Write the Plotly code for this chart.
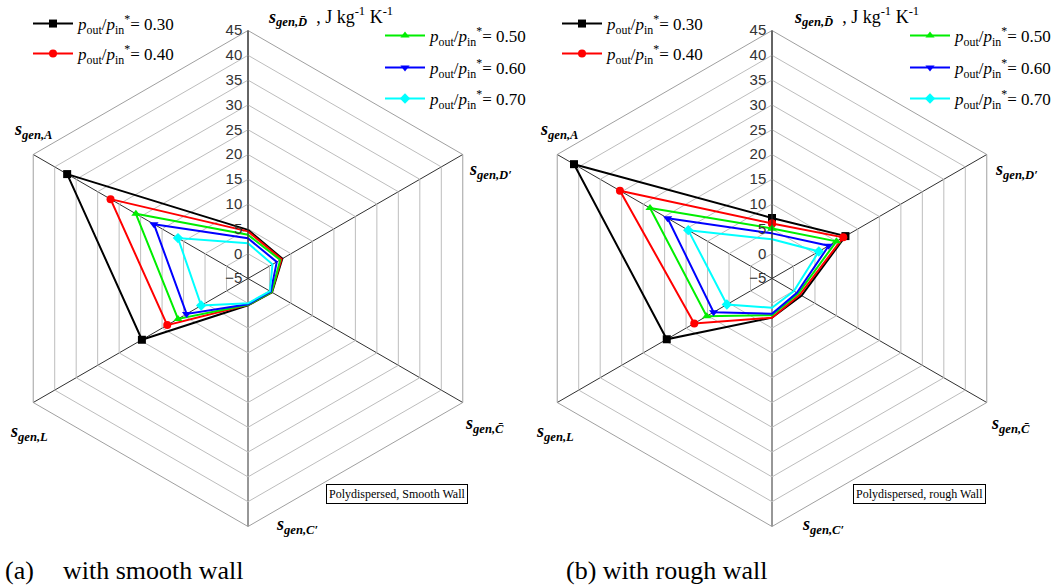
import plotly.graph_objects as go

W, H = 1064, 588

# ---------------- data ----------------
axes = ["D\u0304", "D\u2032", "C\u0304", "C\u2032", "L", "A"]   # clockwise from top
ratios = ["0.30", "0.40", "0.50", "0.60", "0.70"]

smooth_030 = [4.8, 3.0, 0.6, 0.4, 19.7, 37.1]
smooth_040 = [4.5, 2.8, 0.5, 0.3, 13.8, 27.0]
smooth_050 = [3.8, 2.5, 0.5, 0.3, 11.3, 21.1]
smooth_060 = [3.1, 1.7, 0.3, 0.2, 9.3, 16.9]
smooth_070 = [2.1, 0.7, 0.1, 0.0, 5.9, 11.3]

rough_030 = [7.2, 12.1, 1.9, 2.9, 19.5, 41.1]
rough_040 = [6.1, 11.6, 1.5, 2.9, 13.1, 30.4]
rough_050 = [5.1, 10.0, 1.1, 2.4, 10.2, 23.4]
rough_060 = [4.1, 8.2, 0.8, 2.1, 8.6, 19.3]
rough_070 = [2.9, 5.9, 0.1, 0.9, 5.5, 14.5]

radial_range = [-5, 45]
radial_step = 5

smooth = [smooth_030, smooth_040, smooth_050, smooth_060, smooth_070]
rough = [rough_030, rough_040, rough_050, rough_060, rough_070]

# ---------------- style ----------------
colors = ["#000000", "#FF0000", "#00EE00", "#0000FF", "#00FFFF"]
symbols = ["square", "circle", "triangle-up", "triangle-down", "diamond"]
SERIF = "Liberation Serif"
SANS = "Liberation Sans"


def px(x):
    return x / W


def py(y):
    return 1 - y / H


def closed(v):
    return list(v) + [v[0]]


# legend box positions (left x, top y) in pixels, one per series and panel
leg_pos_left = [(28, 6), (28, 36), (380, 18), (380, 50), (380, 81)]
leg_pos_right = [(557, 6), (557, 36), (905, 18), (905, 50), (905, 81)]

fig = go.Figure()
legends = {}
n = 0
for sub, data, pos in (("polar", smooth, leg_pos_left), ("polar2", rough, leg_pos_right)):
    for i, vals in enumerate(data):
        n += 1
        lname = "legend" if n == 1 else "legend%d" % n
        legends[lname] = dict(
            x=px(pos[i][0]), y=py(pos[i][1]), xanchor="left", yanchor="top",
            bgcolor="rgba(0,0,0,0)", itemwidth=40,
            font=dict(family=SERIF, size=17, color="black"))
        fig.add_trace(go.Scatterpolar(
            r=closed(vals), theta=closed(axes), subplot=sub,
            mode="lines+markers",
            line=dict(color=colors[i], width=2),
            marker=dict(symbol=symbols[i], size=8, color=colors[i]),
            name="<i>p</i><sub>out</sub>/<i>p</i><sub>in</sub><sup>*</sup>= " + ratios[i],
            legend=lname, showlegend=True,
        ))


def polar_layout(cx):
    R = 248
    cy = 278.5
    return dict(
        domain=dict(x=[px(cx - R), px(cx + R)], y=[py(cy + R), py(cy - R)]),
        gridshape="linear",
        bgcolor="white",
        radialaxis=dict(
            range=radial_range, tick0=0, dtick=radial_step, angle=90,
            side="counterclockwise", showline=True, linecolor="#333333",
            linewidth=1, gridcolor="#BDBDBD", gridwidth=1, ticks="",
            tickfont=dict(family=SANS, size=15, color="#333333"),
            tickangle=90,
        ),
        angularaxis=dict(
            rotation=90, direction="clockwise", showline=True,
            linecolor="#A0A0A0", linewidth=1, gridcolor="#303030",
            gridwidth=1, ticks="", showticklabels=False,
        ),
    )


fig.update_layout(
    width=W, height=H, margin=dict(l=0, r=0, t=0, b=0),
    paper_bgcolor="white", plot_bgcolor="white",
    font=dict(family=SERIF, size=17, color="black"),
    polar=polar_layout(248),
    polar2=polar_layout(772),
    **legends,
)

anns = []


def lab(sub):
    return "<b><i>s</i></b><sub><b><i>gen," + sub + "</i></b></sub>"


label_pos = {
    "D\u2032": (467, 170), "C\u0304": (463, 424), "C\u2032": (274, 525),
    "L": (8, 432), "A": (12, 130),
}
for off in (0, 526):
    anns.append(dict(x=px(266 + off), y=py(17), xref="paper", yref="paper",
                     xanchor="left", yanchor="middle", showarrow=False,
                     text=lab(axes[0]) + "\u00a0\u00a0, J kg<sup>-1</sup> K<sup>-1</sup>",
                     font=dict(family=SERIF, size=18, color="black")))
    for k, (x, y) in label_pos.items():
        anns.append(dict(x=px(x + off), y=py(y), xref="paper", yref="paper",
                         xanchor="left", yanchor="middle", showarrow=False,
                         text=lab(k), font=dict(family=SERIF, size=18, color="black")))

for cx, txt in ((397, "Polydispersed, Smooth Wall"), (919, "Polydispersed, rough Wall")):
    anns.append(dict(x=px(cx), y=py(494), xref="paper", yref="paper",
                     xanchor="center", yanchor="middle", showarrow=False, text=txt,
                     font=dict(family=SERIF, size=12, color="black"),
                     bordercolor="black", borderwidth=1, borderpad=2, bgcolor="white"))

for x, txt in ((3, "(a)"), (61, "with smooth wall"), (564, "(b) with rough wall")):
    anns.append(dict(x=px(x), y=py(570), xref="paper", yref="paper",
                     xanchor="left", yanchor="middle", showarrow=False, text=txt,
                     font=dict(family=SERIF, size=26, color="black")))

fig.update_layout(annotations=anns)
fig.write_html("out.html")
